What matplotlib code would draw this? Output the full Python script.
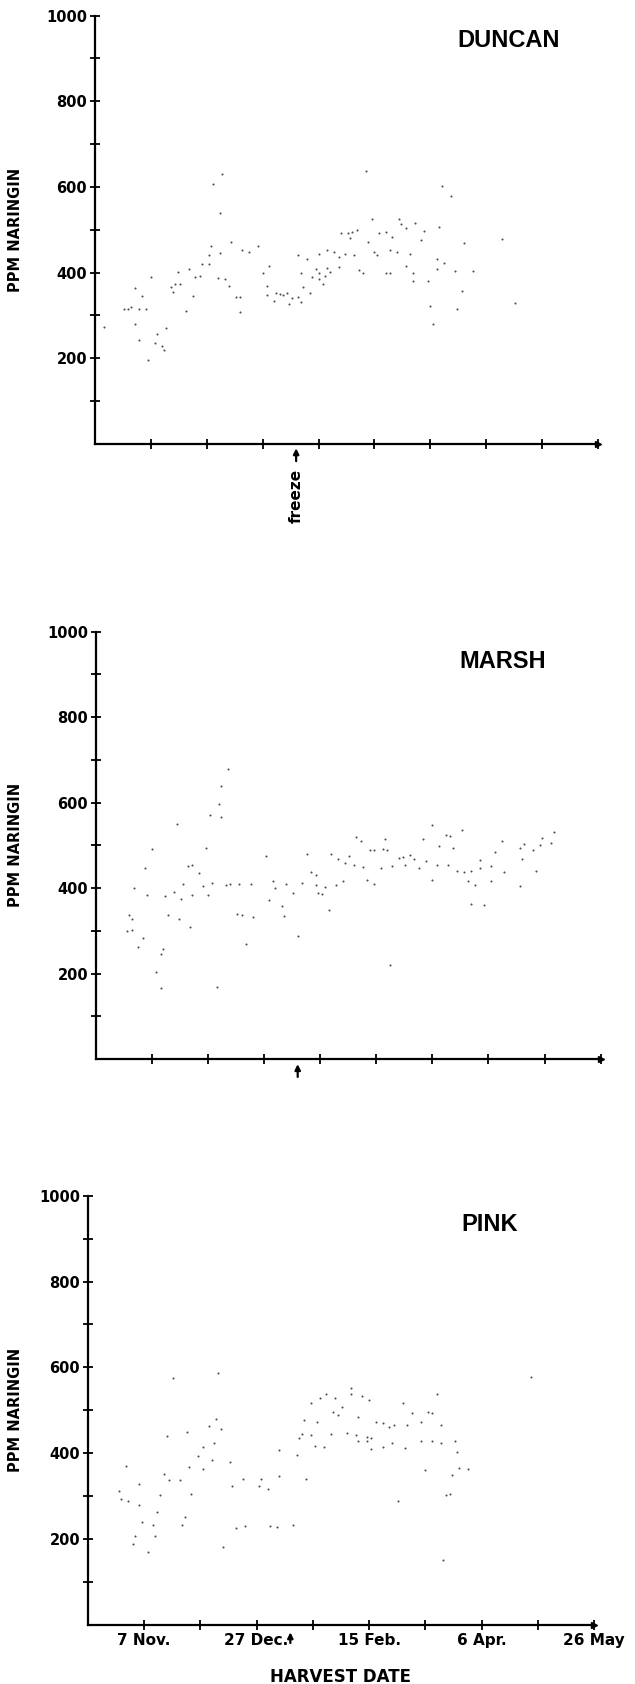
"""
Naringin in grapefruit juice through the harvest season
Three cultivars (Duncan, Marsh, Pink), freeze date marked with an arrow
"""
import matplotlib
matplotlib.use("Agg")
import matplotlib.pyplot as plt
import matplotlib.transforms as mtransforms

# harvest day counted from 13 Oct. (one x tick = 25 days), naringin in ppm
duncan_day = [121, 57, 53, 155, 159, 56, 124, 136, 143, 137, 139, 154, 117, 115, 113, 110,
              147, 127, 130, 114, 182, 146, 133, 61, 165, 122, 73, 52, 66, 69, 56, 104,
              107, 112, 116, 126, 125, 132, 135, 141, 91, 51, 100, 109, 95, 153,
              48, 51, 42, 37, 75, 78, 92, 99, 100, 104, 105, 109, 118, 120, 130, 132,
              139, 142, 153, 156, 161, 169, 45, 47, 55, 58, 34, 36, 38, 25, 35, 44,
              21, 18, 60, 63, 65, 77, 77, 80, 81, 83, 84, 86, 87, 88, 91, 93, 96, 97,
              100, 102, 92, 103, 142, 149, 164, 150, 162, 188, 151, 13, 15, 16, 20, 23,
              41, 65, 4, 18, 20, 27, 28, 32, 30, 31, 24]
duncan_ppm = [637, 629, 606, 602, 579, 540, 525, 525, 516, 514, 505, 506, 500, 494, 492, 492,
              498, 492, 494, 480, 479, 476, 484, 471, 470, 471, 463, 463, 452, 449, 446, 452,
              448, 444, 442, 442, 448, 452, 448, 444, 440, 440, 444, 436, 432, 431,
              421, 419, 409, 402, 400, 415, 400, 409, 400, 411, 402, 412, 407, 398, 399, 399,
              415, 398, 408, 422, 403, 403, 390, 392, 388, 386, 367, 374, 374, 390, 355, 345,
              345, 363, 369, 342, 342, 368, 347, 333, 353, 351, 347, 353, 326, 340, 343, 367,
              353, 390, 384, 373, 332, 392, 381, 380, 357, 322, 316, 329, 281, 314, 316, 319,
              316, 316, 311, 308, 274, 280, 243, 236, 257, 271, 229, 219, 196]

marsh_day = [59, 56, 55, 51, 56, 36, 150, 163, 204, 156, 158, 116, 129, 181, 146, 199,
             203, 191, 198, 153, 159, 178, 189, 195, 25, 49, 122, 124, 128, 130, 118, 94,
             76, 105, 113, 135, 137, 140, 142, 147, 152, 157, 171, 190, 108, 111, 115, 119,
             127, 132, 138, 144, 171, 176, 161, 164, 167, 182, 196, 41, 43, 46, 22, 96, 98,
             17, 23, 31, 35, 38, 39, 43, 48, 52, 50, 58, 60, 64, 69, 77, 79, 80, 85, 83,
             88, 92, 98, 99, 101, 102, 107, 110, 104, 121, 124, 150, 166, 169, 176, 189,
             167, 173, 15, 16, 14, 16, 21, 19, 32, 37, 42, 63, 65, 70, 84, 67, 90, 30, 29,
             27, 29, 54, 131]
marsh_ppm = [679, 638, 597, 571, 567, 550, 547, 537, 532, 525, 523, 519, 515, 511, 515, 518,
             506, 504, 500, 498, 494, 485, 494, 489, 492, 493, 490, 490, 492, 490, 510, 479,
             475, 480, 475, 471, 473, 477, 467, 463, 455, 455, 466, 469, 467, 459, 455, 449,
             446, 452, 455, 448, 448, 452, 440, 438, 440, 438, 440, 452, 454, 436, 446, 438, 430,
             400, 384, 382, 391, 374, 409, 384, 404, 411, 383, 408, 409, 409, 409, 371, 417, 400, 409, 359,
             388, 412, 408, 388, 386, 402, 408, 417, 349, 419, 410, 419, 417, 408, 417, 404,
             363, 360, 338, 328, 299, 301, 283, 262, 338, 328, 309, 340, 336, 332, 334, 270, 289, 258, 246,
             204, 167, 169, 221]

pink_day = [38, 58, 197, 117, 106, 117, 122, 155, 103, 110, 125, 99, 113, 140, 109, 153,
            151, 111, 120, 144, 57, 96, 102, 128, 131, 134, 136, 142, 157, 148, 54, 59,
            95, 99, 108, 115, 44, 35, 94, 119, 124, 126,
            163, 157, 153, 148, 141, 135, 131, 126, 124, 120, 105, 101, 85, 93, 51, 56,
            49, 55, 63, 45, 51, 17, 34, 36, 41, 164, 150, 162, 165, 169, 97, 85, 69, 77,
            64, 76, 80, 23, 14, 15, 18, 23, 32, 46, 31, 159, 161, 138, 43, 42, 24, 29,
            21, 30, 20, 27, 66, 70, 81, 84, 91, 60, 158]
pink_ppm = [575, 586, 577, 553, 537, 537, 534, 539, 528, 528, 524, 516, 508, 516, 497, 493,
            495, 489, 485, 493, 479, 477, 473, 472, 470, 462, 466, 466, 466, 473, 464, 456,
            446, 442, 444, 448, 450, 440, 435, 442, 437, 435,
            428, 425, 428, 428, 412, 425, 415, 410, 428, 428, 415, 418, 408, 395, 415, 425,
            393, 385, 379, 368, 364, 370, 352, 338, 337, 402, 360, 350, 366, 364, 341, 348, 341, 341,
            324, 324, 316, 329, 311, 294, 290, 279, 302, 304, 263, 303, 304, 289, 252, 232, 240, 234,
            208, 207, 188, 170, 227, 231, 231, 229, 234, 181, 151]

cultivars = ["DUNCAN", "MARSH", "PINK"]
y_ticks = [100, 200, 300, 400, 500, 600, 700, 800, 900, 1000]
y_tick_labels = ["", "200", "", "400", "", "600", "", "800", "", "1000"]
x_ticks = [25, 50, 75, 100, 125, 150, 175, 200, 225]
x_tick_labels = ["7 Nov.", "", "27 Dec.", "", "15 Feb.", "", "6 Apr.", "", "26 May"]
freeze_day = 90

FIG_W, FIG_H = 635, 1684
# axes boxes in pixels: left, top, right, bottom
boxes = [(94.7, 15.5, 598.3, 444.0),
         (95.7, 631.7, 600.7, 1059.0),
         (87.7, 1195.7, 594.3, 1625.0)]
# where each cultivar name sits (data coords, left edge / centre)
title_pos = [(162, 941), (162, 930), (166, 932)]

BOLD = ["DejaVu Sans"]
TITLE_FONT = ["Liberation Sans", "DejaVu Sans"]


def make_axes(fig, box):
    """Place an axes from a pixel box (left, top, right, bottom)."""
    left, top, right, bottom = box
    return fig.add_axes([left / FIG_W, 1 - bottom / FIG_H,
                         (right - left) / FIG_W, (bottom - top) / FIG_H])


def style_axes(ax, show_dates):
    """Old-style plotter axes: left + bottom lines with crossing ticks."""
    ax.set_xlim(0, 225)
    ax.set_ylim(0, 1000)
    for side in ("top", "right"):
        ax.spines[side].set_visible(False)
    for side in ("left", "bottom"):
        ax.spines[side].set_linewidth(1.6)

    ax.set_yticks(y_ticks)
    ax.set_yticklabels(y_tick_labels, family=BOLD, fontweight="bold", fontsize=10.5)
    ax.set_xticks(x_ticks)
    if show_dates:
        ax.set_xticklabels(x_tick_labels, family=BOLD, fontweight="bold", fontsize=11)
    else:
        ax.set_xticklabels([])
    ax.tick_params(direction="inout", length=7, width=1.3, pad=2)

    # arrow head at the end of the time axis
    ax.plot(1, 0, ">", color="black", markersize=5,
            transform=ax.get_yaxis_transform(), clip_on=False)

    ax.set_ylabel("PPM NARINGIN", family=BOLD, fontweight="bold", fontsize=10.5)
    trans = mtransforms.blended_transform_factory(ax.figure.transFigure, ax.transAxes)
    ax.yaxis.set_label_coords(23 / FIG_W, 0.5, transform=trans)


def freeze_arrow(ax, y_tip, y_tail):
    ax.annotate("", xy=(freeze_day, y_tip), xytext=(freeze_day, y_tail),
                arrowprops=dict(arrowstyle="-|>", color="black", lw=1.6,
                                mutation_scale=8, shrinkA=0, shrinkB=0),
                annotation_clip=False)


def main():
    fig = plt.figure(figsize=(FIG_W / 100, FIG_H / 100), dpi=100)

    series = [(duncan_day, duncan_ppm), (marsh_day, marsh_ppm), (pink_day, pink_ppm)]
    for i, (days, ppm) in enumerate(series):
        ax = make_axes(fig, boxes[i])
        style_axes(ax, show_dates=(i == 2))
        ax.scatter(days, ppm, s=2.2, color="0.3", linewidths=0)
        tx, ty = title_pos[i]
        ax.text(tx, ty, cultivars[i], family=TITLE_FONT, fontweight="bold",
                fontsize=17, ha="left", va="center")

        if i == 0:
            freeze_arrow(ax, -10, -40)
            ax.text(freeze_day, -122, "freeze", rotation=90, family=BOLD,
                    fontweight="bold", fontsize=11, ha="center", va="center")
        elif i == 1:
            freeze_arrow(ax, -12, -42)
        else:
            freeze_arrow(ax, -17, -42)
            ax.set_xlabel("HARVEST DATE", family=BOLD, fontweight="bold", fontsize=12)
            ax.xaxis.set_label_coords(0.5, -0.100)

    fig.savefig("out.png", dpi=100)


if __name__ == "__main__":
    main()
